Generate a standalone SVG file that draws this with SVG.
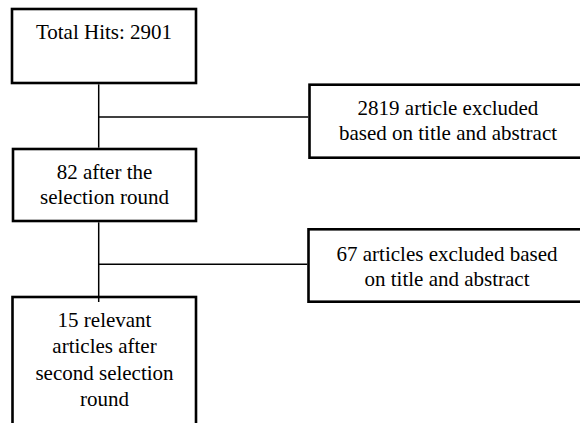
<svg xmlns="http://www.w3.org/2000/svg" width="580" height="423" viewBox="0 0 580 423">
<style>
.box{fill:#fff;stroke:#000;stroke-width:2.6}
.t{font-family:"Liberation Serif","Times New Roman",serif;font-size:21px;fill:#000;text-anchor:middle}
.c{stroke:#000;stroke-width:1.5;fill:none}
</style>
<rect width="580" height="423" fill="#fff"/>
<g id="n1">
<rect class="box" x="12" y="9" width="184" height="74"/>
<text class="t" x="104" y="39">Total Hits: 2901</text>
</g>
<g id="n2">
<rect class="box" x="309.5" y="84.7" width="277" height="73"/>
<text class="t" x="448" y="115">2819 article excluded</text>
<text class="t" x="448" y="139.5">based on title and abstract</text>
</g>
<g id="n3">
<rect class="box" x="13" y="149" width="183" height="72"/>
<text class="t" x="104.5" y="179.3">82 after the</text>
<text class="t" x="104.5" y="204">selection round</text>
</g>
<g id="n4">
<rect class="box" x="308.5" y="229.3" width="278" height="72.4"/>
<text class="t" x="447" y="261">67 articles excluded based</text>
<text class="t" x="447" y="285.5">on title and abstract</text>
</g>
<g id="n5">
<rect class="box" x="12.5" y="297" width="183.5" height="140"/>
<text class="t" x="104.5" y="327">15 relevant</text>
<text class="t" x="104.5" y="353">articles after</text>
<text class="t" x="104.5" y="379.5">second selection</text>
<text class="t" x="104.5" y="405.5">round</text>
</g>
<g id="connectors">
<line class="c" x1="98.7" y1="84.3" x2="98.7" y2="147.7"/>
<line class="c" x1="98.7" y1="117" x2="308.2" y2="117"/>
<line class="c" x1="98.7" y1="222.3" x2="98.7" y2="302"/>
<line class="c" x1="98.7" y1="264.3" x2="307.2" y2="264.3"/>
</g>
</svg>
